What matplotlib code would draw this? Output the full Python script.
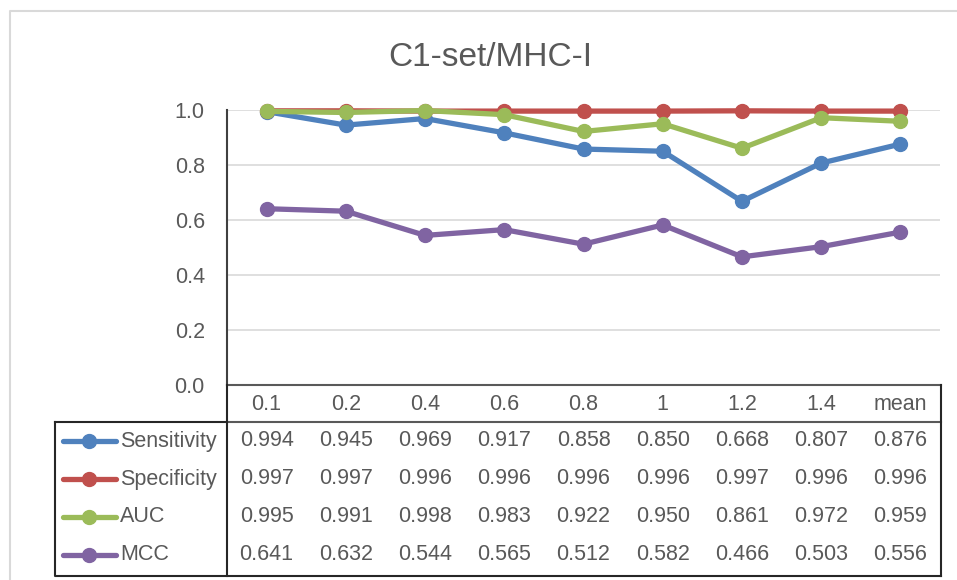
import matplotlib
matplotlib.use("Agg")
import matplotlib.pyplot as plt
import numpy as np

plt.rcParams['font.family'] = ['Liberation Sans', 'DejaVu Sans']

# data
categorias = ["0.1", "0.2", "0.4", "0.6", "0.8", "1", "1.2", "1.4", "mean"]
series = ["Sensitivity", "Specificity", "AUC", "MCC"]
sensitivity = [0.994, 0.945, 0.969, 0.917, 0.858, 0.850, 0.668, 0.807, 0.876]
specificity = [0.997, 0.997, 0.996, 0.996, 0.996, 0.996, 0.997, 0.996, 0.996]
auc = [0.995, 0.991, 0.998, 0.983, 0.922, 0.950, 0.861, 0.972, 0.959]
mcc = [0.641, 0.632, 0.544, 0.565, 0.512, 0.582, 0.466, 0.503, 0.556]
y_ticks = [0.0, 0.2, 0.4, 0.6, 0.8, 1.0]

valores = [sensitivity, specificity, auc, mcc]
cores = ["#4F81BD", "#C0504D", "#9BBB59", "#8064A2"]
cinza_txt = "#595959"
fs = 15.5

W, H = 957, 580
fig = plt.figure(figsize=(W/100, H/100), dpi=100)

# layout em pixels
px_esq, px_dir = 227, 940
px_topo, px_base = 110, 385
linhas_y = [441, 479, 517, 555]
header_y = 404
tab_esq, tab_base, header_base = 55, 576, 422

# eixo do grafico
ax = fig.add_axes([px_esq/W, (H - px_base)/H, (px_dir - px_esq)/W, (px_base - px_topo)/H])
x = np.arange(len(categorias))
for vals, cor in zip(valores, cores):
    ax.plot(x, vals, "-o", color=cor, lw=3.8, ms=10, clip_on=False, zorder=3,
            solid_capstyle="round")
ax.set_xlim(-0.5, len(categorias) - 0.5)
ax.set_ylim(0, 1)
ax.set_yticks(y_ticks)
ax.set_yticklabels([f"{v:.1f}" for v in y_ticks], fontsize=fs, color=cinza_txt)
ax.tick_params(axis="y", length=0, pad=16)
ax.set_xticks([])
ax.grid(axis="y", color="#D9D9D9", lw=1.2)
ax.set_axisbelow(True)
for s in ["top", "right", "bottom"]:
    ax.spines[s].set_visible(False)
ax.spines["left"].set_color("#404040")
ax.spines["left"].set_linewidth(1.5)

# eixo de sobreposicao em pixels para a tabela
ov = fig.add_axes([0, 0, 1, 1])
ov.set_xlim(0, W)
ov.set_ylim(H, 0)
ov.axis("off")

# borda do grafico
ov.plot([10, 10, W + 5], [H + 5, 11, 11], color="#D9D9D9", lw=1.5)

ov.text(490, 57, "C1-set/MHC-I", fontsize=24, color=cinza_txt, ha="center", va="center")

# linhas da tabela
borda = "#262626"
ov.plot([px_esq, px_dir + 1], [px_base, px_base], color="#595959", lw=1.5)
ov.plot([px_esq, px_dir + 1], [header_base, header_base], color="#595959", lw=1.5)
ov.plot([px_esq, px_esq], [px_base, tab_base], color=borda, lw=1.5)
ov.plot([px_dir + 1, px_dir + 1], [px_base, tab_base], color=borda, lw=1.5)
ov.plot([tab_esq, tab_esq, px_dir + 1], [header_base, tab_base, tab_base], color=borda, lw=1.5)
ov.plot([tab_esq, px_esq], [header_base, header_base], color=borda, lw=1.5)

larg_cat = (px_dir - px_esq) / len(categorias)
centros = [px_esq + larg_cat * (k + 0.5) for k in range(len(categorias))]
for cx, cat in zip(centros, categorias):
    ov.text(cx, header_y, cat, fontsize=fs, color=cinza_txt, ha="center", va="center")

for ry, nome, vals, cor in zip(linhas_y, series, valores, cores):
    ov.plot([63, 116], [ry, ry], color=cor, lw=3.8, solid_capstyle="round")
    ov.plot([89], [ry], "o", color=cor, ms=10)
    ov.text(120, ry, nome, fontsize=fs, color=cinza_txt, ha="left", va="center")
    for cx, v in zip(centros, vals):
        ov.text(cx, ry, f"{v:.3f}", fontsize=fs, color=cinza_txt, ha="center", va="center")

fig.savefig("out.png", dpi=100)
